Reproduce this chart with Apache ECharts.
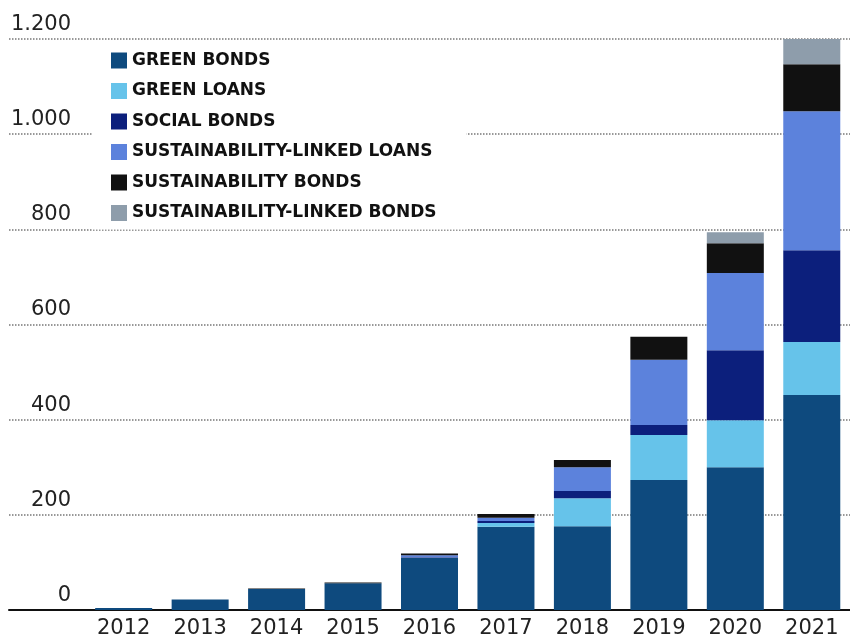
<!DOCTYPE html>
<html>
<head>
<meta charset="utf-8">
<script src="https://cdn.jsdelivr.net/npm/echarts@6/dist/echarts.min.js"></script>
<style>
html,body{margin:0;padding:0;background:#fff;}
#chart{width:850px;height:640px;}
</style>
</head>
<body>
<div id="chart"></div>
<script>
const years = ['2012','2013','2014','2015','2016','2017','2018','2019','2020','2021'];
const greenBonds = [4, 22, 44, 56, 110, 175, 176, 273, 300, 452];
const greenLoans = [0, 0, 0, 0, 0, 8, 59, 95, 99, 111];
const socialBonds = [0, 0, 0, 0, 1, 4, 15, 21, 147, 193];
const sllLoans = [0, 0, 0, 0, 4, 7, 50, 137, 162, 292];
const sustBonds = [0, 0, 1, 2, 4, 8, 15, 48, 63, 99];
const slBonds = [0, 0, 0, 0, 0, 0, 0, 0, 23, 53];
const seriesNames = ['GREEN BONDS','GREEN LOANS','SOCIAL BONDS','SUSTAINABILITY-LINKED LOANS','SUSTAINABILITY BONDS','SUSTAINABILITY-LINKED BONDS'];
const yTicks = {0:'0',200:'200',400:'400',600:'600',800:'800',1000:'1.000',1200:'1.200'};

const colors = ['#0e4a7e','#66c3ea','#0c1f7c','#5c82dc','#111111','#8e9dab'];
const dataSets = [greenBonds, greenLoans, socialBonds, sllLoans, sustBonds, slBonds];

const chart = echarts.init(document.getElementById('chart'));
const cats = [''].concat(years);
chart.setOption({
  animation: false,
  backgroundColor: '#fff',
  grid: {left: 9, right: -1, top: 39, bottom: 30, containLabel: false},
  legend: {
    orient: 'vertical',
    left: 93, top: 44,
    padding: [8, 30, 8, 18],
    backgroundColor: '#fff',
    itemWidth: 16, itemHeight: 16, itemGap: 13.5,
    icon: 'rect',
    data: seriesNames,
    textStyle: {fontFamily: 'DejaVu Sans', fontWeight: 'bold', fontSize: 17, color: '#111', lineHeight: 16}
  },
  xAxis: {
    type: 'category',
    data: cats,
    axisTick: {show: false},
    axisLine: {lineStyle: {color: '#111', width: 2}},
    axisLabel: {fontFamily: 'DejaVu Sans', fontSize: 21, color: '#222', margin: 8}
  },
  yAxis: {
    type: 'value', min: 0, max: 1200, interval: 200,
    axisLine: {show: false}, axisTick: {show: false},
    splitLine: {lineStyle: {type: 'dotted', color: '#777', width: 1.5}},
    axisLabel: {
      inside: true, margin: 62, align: 'right', verticalAlign: 'bottom',
      padding: [0, 0, 4, 0],
      fontFamily: 'DejaVu Sans', fontSize: 21, color: '#222',
      formatter: v => yTicks[v] !== undefined ? yTicks[v] : ''
    }
  },
  series: seriesNames.map((n, i) => ({
    name: n, type: 'bar', stack: 'total', barWidth: 57,
    itemStyle: {color: colors[i]},
    data: [null].concat(dataSets[i])
  }))
});
</script>
</body>
</html>
